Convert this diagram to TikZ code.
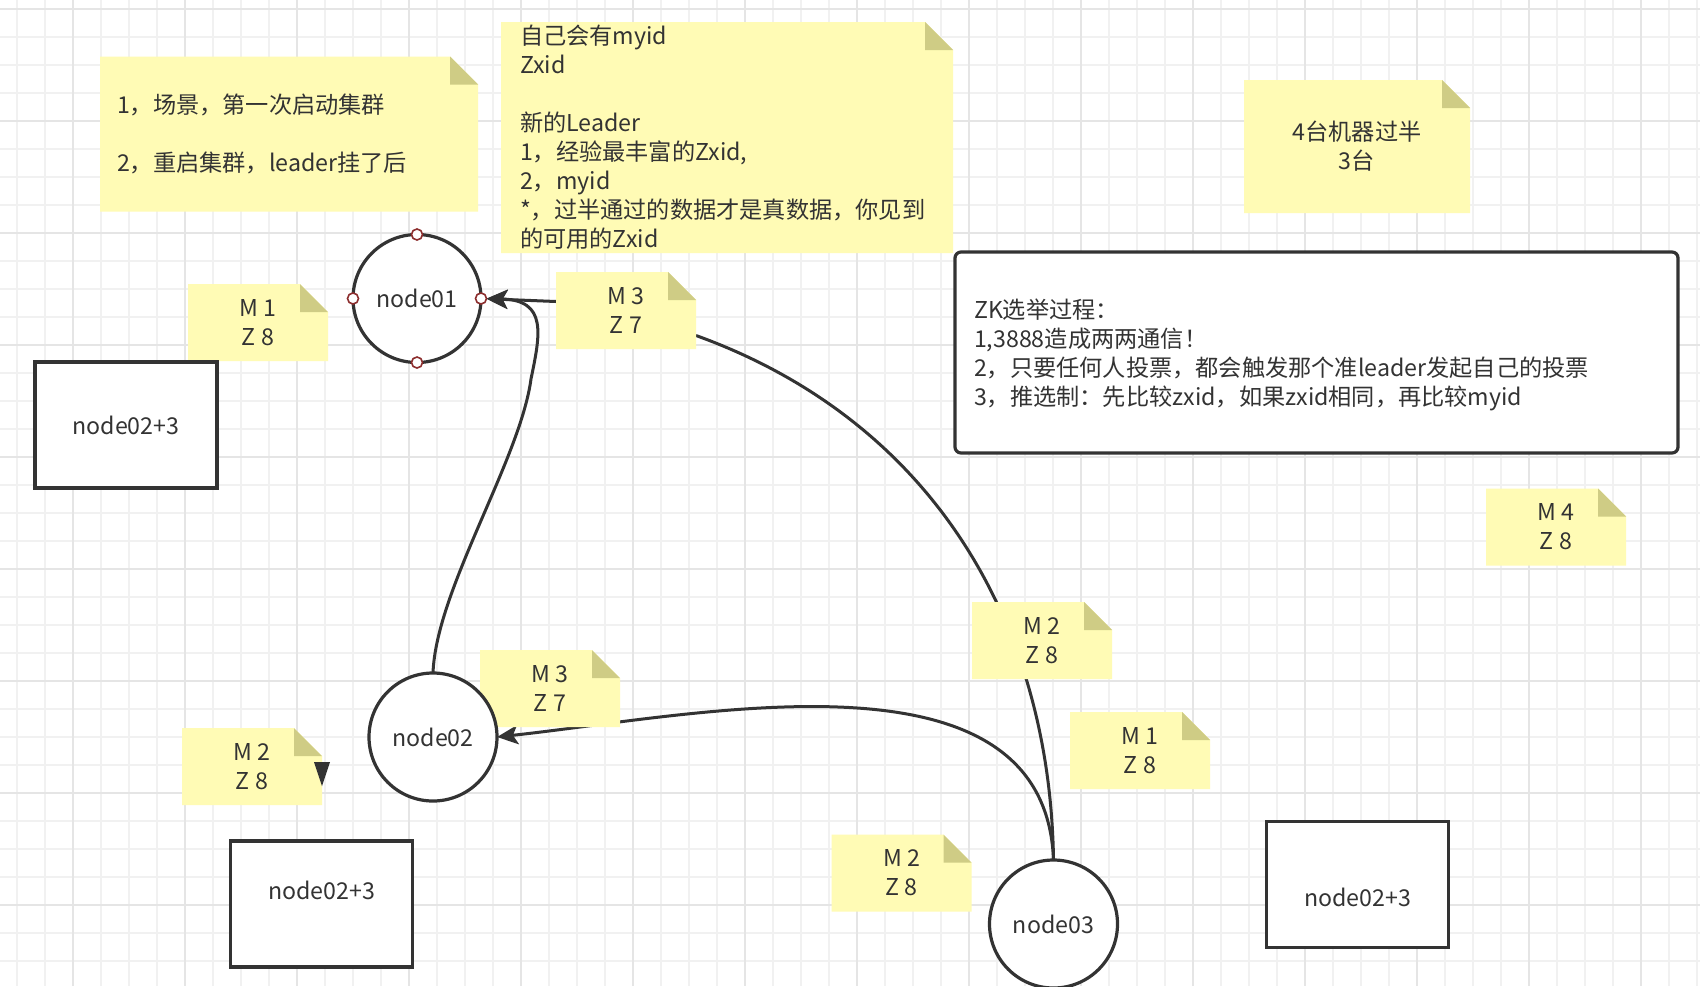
\documentclass[tikz,border=0pt]{standalone}
\usepackage{fontspec}
\setmainfont{Noto Sans CJK SC}
\usetikzlibrary{arrows.meta,positioning}

\definecolor{ink}{RGB}{51,51,51}
\definecolor{paper}{RGB}{255,251,181}
\definecolor{fold}{RGB}{207,204,133}
\definecolor{portred}{RGB}{140,45,45}
\definecolor{gridminor}{RGB}{241,241,241}
\definecolor{gridmajor}{RGB}{229,229,229}

\pgfdeclarelayer{grid}
\pgfdeclarelayer{wires}
\pgfdeclarelayer{notes}
\pgfsetlayers{grid,wires,notes,main}

\begin{document}
\begin{tikzpicture}[x=0.5pt, y=-0.5pt, >={Stealth[length=10.5pt,width=9.5pt,inset=2.5pt]},
  font=\fontsize{11.6}{14.5}\selectfont, text=ink, outer sep=0pt,
  memo/.style={inner sep=0pt, minimum width=70pt, minimum height=38.5pt, align=center},
  peer/.style={circle, draw=ink, line width=1.6pt, fill=white, minimum size=64pt, inner sep=0pt},
  port/.style={circle, draw=portred, line width=0.8pt, fill=white, minimum size=5.5pt, inner sep=0pt},
  hostbox/.style={draw=ink, line width=1.6pt, fill=white, minimum width=91pt, minimum height=63pt},
  panel/.style={draw=ink, line width=1.6pt, fill=white, rounded corners=3pt, inner sep=0pt},
  wire/.style={draw=ink, line width=1.5pt}]
\useasboundingbox (0,0) rectangle (1700,986);

\begin{pgfonlayer}{grid}
\fill[white] (0,0) rectangle (1700,986);
\foreach \x in {17,45,...,1700} \draw[gridminor, line width=0.7pt] (\x,0) -- (\x,986);
\foreach \y in {9,37,...,986} \draw[gridminor, line width=0.7pt] (0,\y) -- (1700,\y);
\foreach \x in {73,185,...,1700} \draw[gridmajor, line width=0.9pt] (\x,0) -- (\x,986);
\foreach \y in {9,121,...,986} \draw[gridmajor, line width=0.9pt] (0,\y) -- (1700,\y);
\end{pgfonlayer}

\node[memo, minimum width=189pt, minimum height=77.5pt, text width=172pt, align=left] (scene) at (289,134)
  {1，场景，第一次启动集群\\[14.5pt]2，重启集群，leader挂了后};
\node[memo, minimum width=226pt, minimum height=115.5pt, text width=207pt, align=left] (rule) at (727,137.5)
  {自己会有myid\\Zxid\\[14.5pt]新的Leader\\1，经验最丰富的Zxid,\\2，myid\\{*}，过半通过的数据才是真数据，你见到\\的可用的Zxid};
\node[memo, minimum width=113pt, minimum height=66.5pt] (half) at (1357,146.5) {4台机器过半\\3台};
\node[panel, minimum width=361.5pt, minimum height=100.5pt, text width=342.5pt, align=left] (zk) at (1316.5,352.5)
  {\rule{0pt}{12pt}ZK选举过程：\\1,3888造成两两通信！\\2，只要任何人投票，都会触发那个准leader发起自己的投票\\3，推选制：先比较zxid，如果zxid相同，再比较myid};

\node[peer] (node01) at (417,298.5) {node01};
\node[peer] (node02) at (433,737) {node02};
\node[peer] (node03) at (1053.5,924) {node03};
\foreach \a/\s in {north/n,south/s,east/e,west/w} \node[port] (p01\s) at (node01.\a) {};

\node[hostbox] (grpA) at (126,425) {node02+3};
\node[hostbox, text depth=14pt] (grpB) at (321.5,904) {node02+3};
\node[hostbox, text height=22pt] (grpC) at (1357.5,884.5) {node02+3};

\node[memo] (v1) at (258,322.5) {M 1\\Z 8};
\node[memo] (v2) at (626,310.5) {M 3\\Z 7};
\node[memo] (v3) at (550,688.5) {M 3\\Z 7};
\node[memo] (v4) at (252,766.5) {M 2\\Z 8};
\node[memo] (v5) at (1042,640.5) {M 2\\Z 8};
\node[memo] (v6) at (1140,750.5) {M 1\\Z 8};
\node[memo] (v7) at (901.5,873) {M 2\\Z 8};
\node[memo] (v8) at (1556,527) {M 4\\Z 8};

\begin{pgfonlayer}{notes}
\foreach \n in {scene,rule,half,v1,v2,v3,v4,v5,v6,v7,v8} {
  \fill[paper] (\n.south west) -- (\n.south east) -- ([yshift=-14pt]\n.north east)
    -- ([xshift=-14pt]\n.north east) -- (\n.north west) -- cycle;
  \fill[fold] ([xshift=-14pt]\n.north east) -- ([xshift=-14pt,yshift=-14pt]\n.north east)
    -- ([yshift=-14pt]\n.north east) -- cycle;
}
\end{pgfonlayer}

\begin{pgfonlayer}{wires}
\draw[wire,->] ([yshift=4.5pt]v2.west) -- (p01e);
\draw[wire,->] (node02.north) .. controls (436,590) and (520,460) .. (531,379)
  .. controls (540,335) and (548,300) .. (p01e);
\draw[wire] ([yshift=-12.5pt]v2.east) .. controls (930,420) and (1050,620) .. (node03.north);
\draw[wire,->] (node03.north) .. controls (1045,640) and (700,715) .. (node02.east);
\end{pgfonlayer}
\fill[ink] (314,762) -- (330,762) -- (322,786) -- cycle;
\end{tikzpicture}
\end{document}
